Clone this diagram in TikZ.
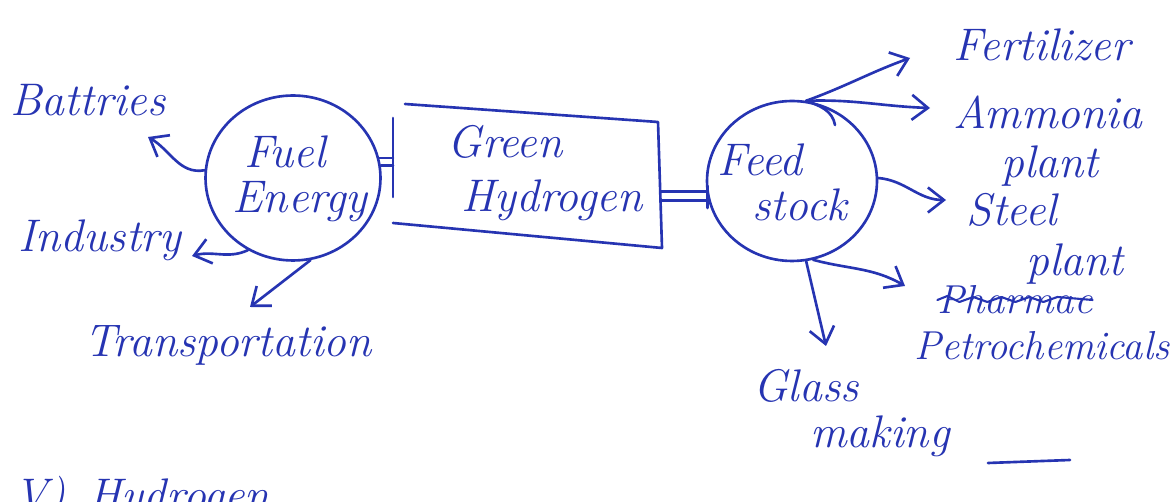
\documentclass[tikz,border=0pt]{standalone}
\usepackage{fontspec}
\usetikzlibrary{arrows.meta,shapes.geometric}
\definecolor{ink}{RGB}{38,52,178}
\tikzset{
  pen/.style={draw=ink,line width=1.5pt,line cap=round,line join=round},
  arr/.style={pen,-{Straight Barb[length=3.2mm,width=5mm,line width=1.5pt]}},
  lbl/.style={text=ink,font=\fontsize{26}{28}\selectfont\itshape,inner sep=0pt,align=center},
  small/.style={lbl,font=\fontsize{23}{25}\selectfont\itshape},
  blob/.style={pen,ellipse,inner sep=0pt},
}
\begin{document}
\begin{tikzpicture}[x=0.02cm,y=-0.02cm]
\useasboundingbox (0,0) rectangle (1176,502);
\clip (0,0) rectangle (1176,502);
\fill[white] (0,0) rectangle (1176,502);

% ---- left hub ----
\node[blob,minimum width=3.5cm,minimum height=3.3cm] (fuel) at (293,178) {};
\node[lbl] (fuel1) at (285,152) {Fuel};
\node[lbl] (fuel2) at (300,202) {Energy};

\node[lbl] (batt) at (88,100) {Battries};
\node[lbl] (ind) at (100,240) {Industry};
\node[lbl] (trans) at (228,345) {Transportation};

\coordinate (tipB) at (148,137);
\coordinate (tipI) at (192,256);
\coordinate (tipT) at (250,307);
\draw[arr] (fuel.175) to[out=190,in=-30] (tipB);
\draw[arr] (fuel.238) to[out=205,in=15] (tipI);
\draw[arr] (fuel.282) -- (tipT);

% ---- green hydrogen box ----
\coordinate (tl) at (405,104);
\coordinate (tr) at (658,122);
\coordinate (br) at (662,248);
\coordinate (bl) at (393,223);
\draw[pen] (tl) -- (tr) -- (br) -- (bl);
\coordinate (barT) at (393,118);
\coordinate (barB) at (393,197);
\draw[pen] (barT) -- (barB);
\node[lbl] (gh1) at (505,142) {Green};
\node[lbl] (gh2) at (552,200) {Hydrogen};

% fuel = | box
\draw[pen] (fuel.13) -- (fuel.13 -| barT);
\draw[pen] (fuel.8) -- (fuel.8 -| barT);

% ---- right hub ----
\node[blob,minimum width=3.4cm,minimum height=3.2cm] (feed) at (792,181) {};
\node[lbl] (feed1) at (760,160) {Feed};
\node[lbl] (feed2) at (800,205) {stock};

% box = | feed
\coordinate (boxR) at (661,190);
\draw[pen] (feed.187) -- (feed.187 -| boxR);
\draw[pen] (feed.193) -- (feed.193 -| boxR);
\draw[pen] ([yshift=0.2cm]feed.190) -- ([yshift=-0.24cm]feed.190);

% ---- outputs of feed stock ----
\node[lbl] (fert) at (1042,45) {Fertilizer};
\node[lbl] (amm1) at (1048,112) {Ammonia};
\node[lbl] (amm2) at (1050,166) {plant};
\node[lbl] (steel1) at (1012,210) {Steel};
\node[lbl] (steel2) at (1075,264) {plant};
\node[small] (pharm) at (1015,300) {Pharmac};
\node[small] (petro) at (1042,346) {Petrochemicals};
\node[lbl] (glass1) at (806,386) {Glass};
\node[lbl] (glass2) at (880,436) {making};

\coordinate (tipF) at (910,58);
\coordinate (tipA) at (930,108);
\coordinate (tipS) at (946,200);
\coordinate (tipP) at (905,286);
\coordinate (tipG) at (826,346);
\draw[arr] (feed.80) to[out=20,in=200] (tipF);
\draw[arr] (feed.80) to[out=2,in=178] (tipA);
\draw[pen] (feed.80) to[out=-20,in=100] (835,125);
\draw[arr] (feed.2) to[out=-5,in=180] (tipS);
\draw[arr] (feed.-75) to[out=-15,in=150] (tipP);
\draw[arr] (feed.-80) -- (tipG);

% strike-out over the first word
\draw[pen,line width=1.2pt] (pharm.west) -- ++(10,-4) -- ++(12,6) -- ++(14,-5) -- ++(14,5) -- ++(14,-5) -- ++(14,5) -- ++(14,-5) -- ++(14,5) -- ++(14,-5) -- (pharm.east);

% flourish of the last letter
\coordinate (gtail) at (988,463);
\draw[pen] (gtail) -- (1070,460);

% next numbered heading, running off the sheet
\node[lbl,anchor=north west] (next) at (14,476) {V)\enspace Hydrogen};
\end{tikzpicture}
\end{document}
